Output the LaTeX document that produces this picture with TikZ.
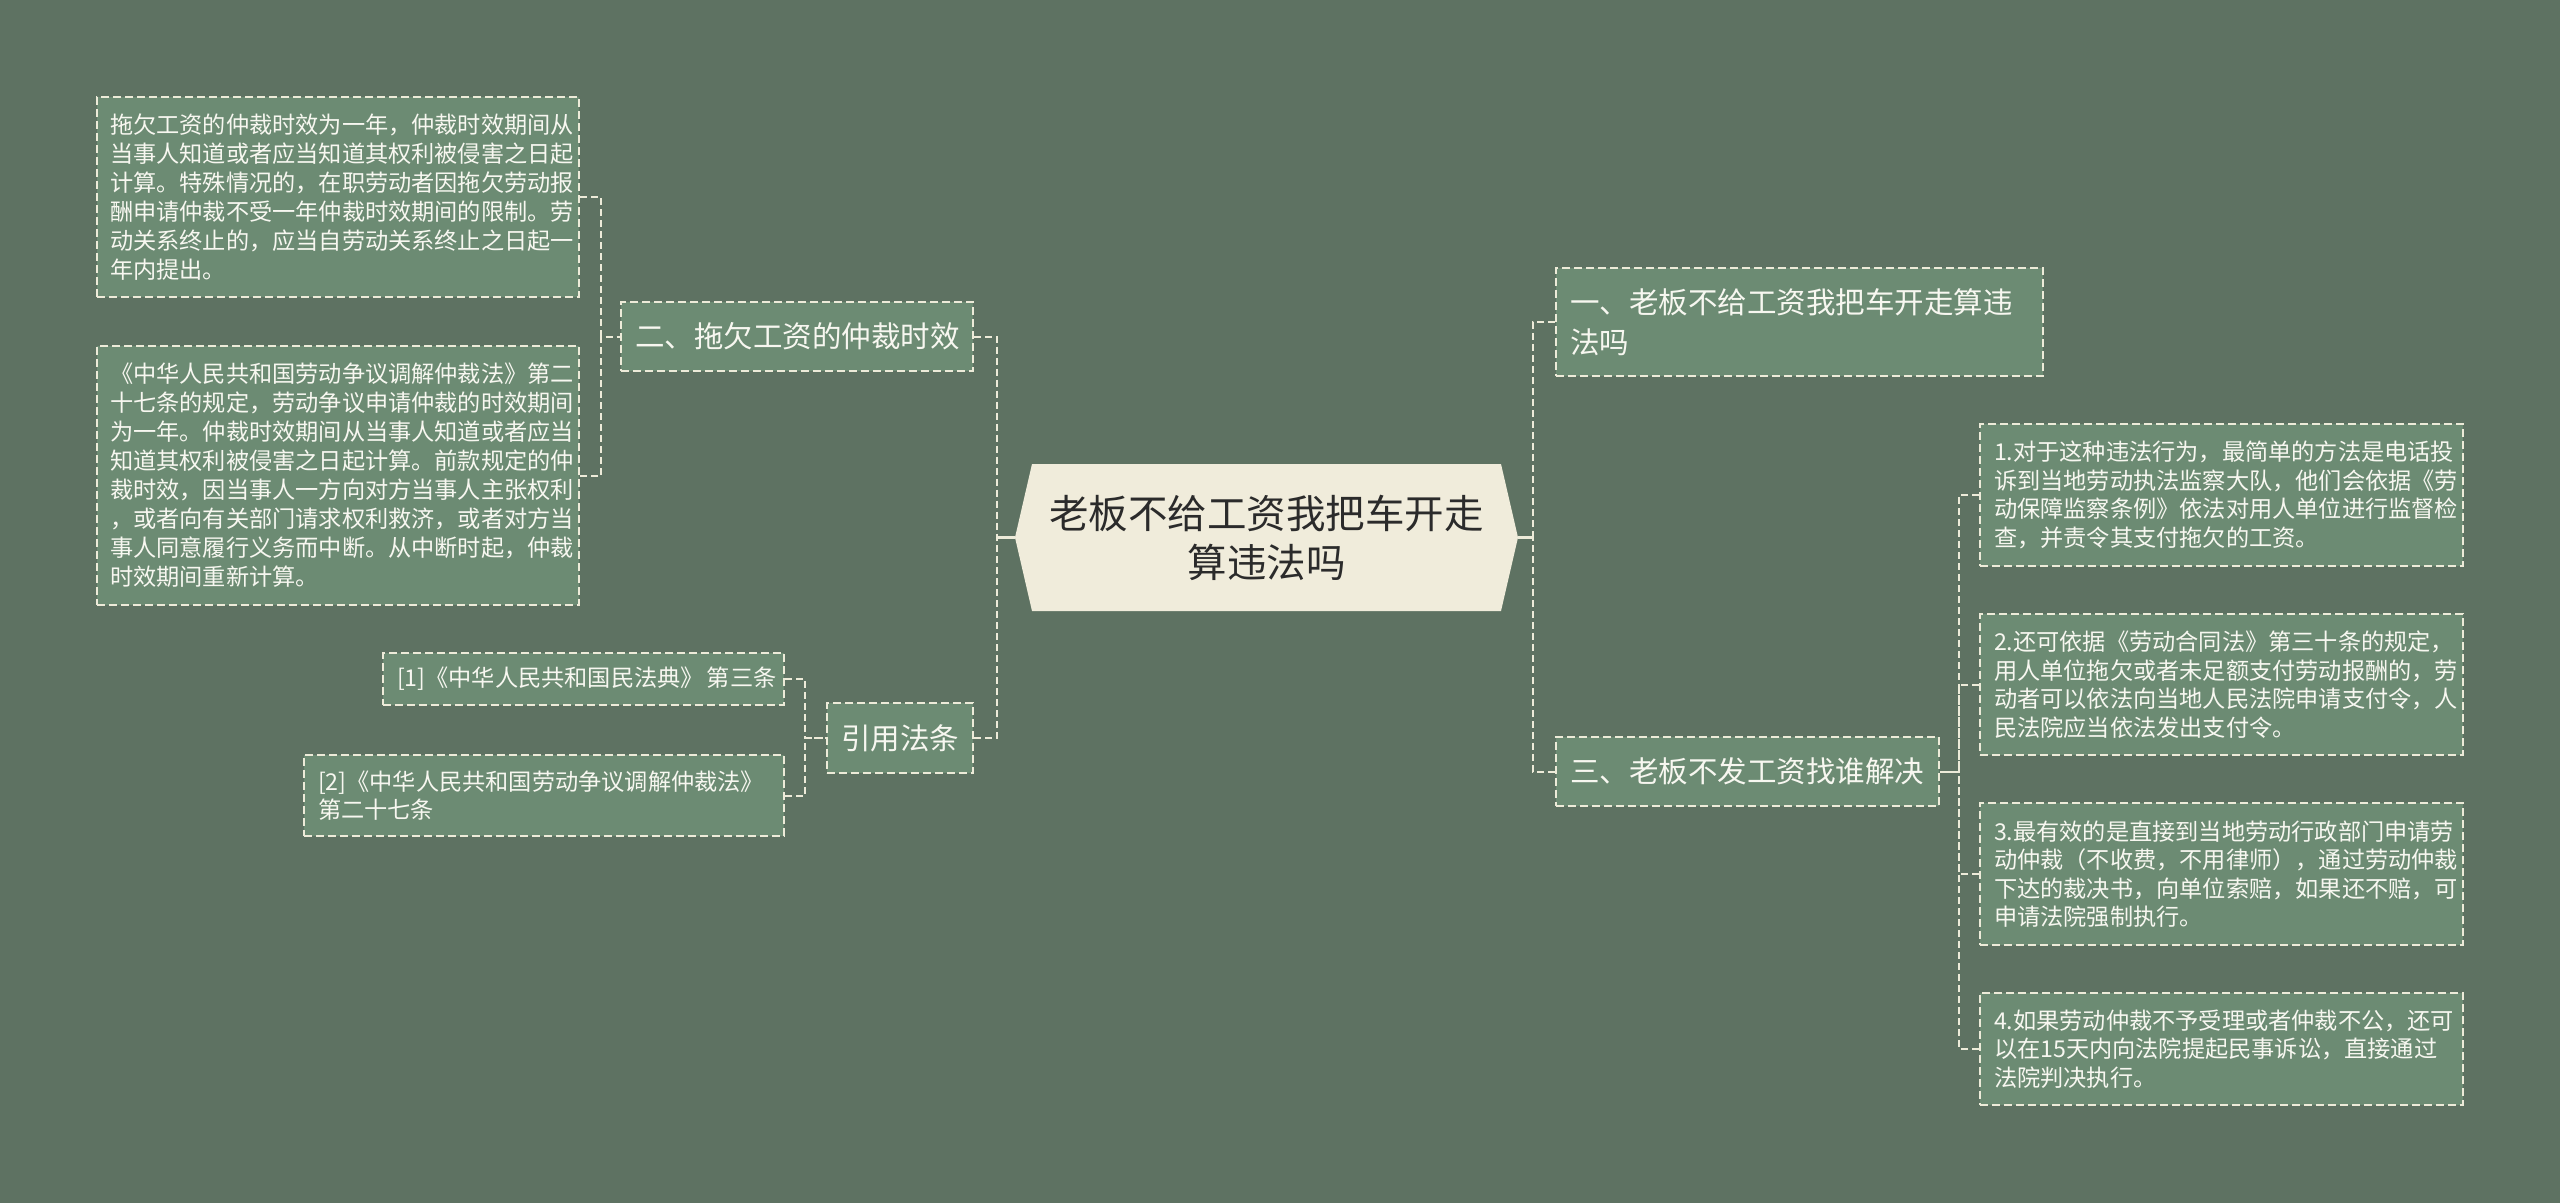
\documentclass[tikz,border=0pt]{standalone}
\usepackage{fontspec}
\setmainfont{Noto Sans CJK SC}
\definecolor{bg}{HTML}{5E7262}
\definecolor{boxfill}{HTML}{6C8B73}
\definecolor{edge}{HTML}{EDEBD9}
\definecolor{txt}{HTML}{F7F7F0}
\definecolor{cfill}{HTML}{F0ECDB}
\definecolor{ctxt}{HTML}{2B2B2B}
\begin{document}
\begin{tikzpicture}[x=1pt,y=-1pt,
  box/.style={draw=edge, line width=2pt, dash pattern=on 8pt off 4pt, fill=boxfill, text=txt, inner xsep=14pt, inner ysep=0pt, align=left, anchor=center},
  small/.style={box, font=\fontsize{23.2}{28.5}\selectfont},
  smallb/.style={box, font=\fontsize{23.2}{29}\selectfont},
  big/.style={box, font=\fontsize{29.5}{40}\selectfont},
  conn/.style={draw=edge, line width=2pt, dash pattern=on 7pt off 4pt},
  stub/.style={draw=edge, line width=3pt},
  centre/.style={inner sep=0pt, minimum width=503pt, minimum height=147pt, text=ctxt, align=center, font=\fontsize{39.5}{49}\selectfont},
]
\useasboundingbox (0,0) rectangle (2560,1203);
\fill[bg] (0,0) rectangle (2560,1203);

% central hexagon
\fill[cfill] (1032,464) -- (1501,464) -- (1518,537.5) -- (1501,611) -- (1032,611) -- (1015,537.5) -- cycle;
\node[centre] (c) at (1266.5,537.5) {老板不给工资我把车开走\\算违法吗};

% right side
\node[big, text width=459pt, minimum height=108pt] (r1) at (1799.5,322) {一、老板不给工资我把车开走算违\\法吗};
\node[big, text width=355pt, minimum height=69pt] (r3) at (1747.5,771.5) {三、老板不发工资找谁解决};

\node[small, text width=455pt, minimum height=142pt] (k1) at (2221.5,495) {1.对于这种违法行为，最简单的方法是电话投\\诉到当地劳动执法监察大队，他们会依据《劳\\动保障监察条例》依法对用人单位进行监督检\\查，并责令其支付拖欠的工资。};
\node[small, text width=455pt, minimum height=141pt] (k2) at (2221.5,684.5) {2.还可依据《劳动合同法》第三十条的规定，\\用人单位拖欠或者未足额支付劳动报酬的，劳\\动者可以依法向当地人民法院申请支付令，人\\民法院应当依法发出支付令。};
\node[small, text width=455pt, minimum height=142pt] (k3) at (2221.5,874) {3.最有效的是直接到当地劳动行政部门申请劳\\动仲裁（不收费，不用律师），通过劳动仲裁\\下达的裁决书，向单位索赔，如果还不赔，可\\申请法院强制执行。};
\node[small, text width=455pt, minimum height=112pt] (k4) at (2221.5,1049) {4.如果劳动仲裁不予受理或者仲裁不公，还可\\以在15天内向法院提起民事诉讼，直接通过\\法院判决执行。};

% left side
\node[big, text width=324pt, minimum height=69pt] (l2) at (797,336.5) {二、拖欠工资的仲裁时效};
\node[big, text width=118pt, minimum height=70pt] (l4) at (900,738) {引用法条};

\node[smallb, text width=456pt, minimum height=200pt, inner xsep=13pt] (a1) at (338,197) {拖欠工资的仲裁时效为一年，仲裁时效期间从\\当事人知道或者应当知道其权利被侵害之日起\\计算。特殊情况的，在职劳动者因拖欠劳动报\\酬申请仲裁不受一年仲裁时效期间的限制。劳\\动关系终止的，应当自劳动关系终止之日起一\\年内提出。};
\node[smallb, text width=456pt, minimum height=259pt, inner xsep=13pt] (a2) at (338,475.5) {《中华人民共和国劳动争议调解仲裁法》第二\\十七条的规定，劳动争议申请仲裁的时效期间\\为一年。仲裁时效期间从当事人知道或者应当\\知道其权利被侵害之日起计算。前款规定的仲\\裁时效，因当事人一方向对方当事人主张权利\\，或者向有关部门请求权利救济，或者对方当\\事人同意履行义务而中断。从中断时起，仲裁\\时效期间重新计算。};

\node[small, text width=373pt, minimum height=52pt] (b1) at (583.5,679) {\mbox{[1]《中华人民共和国民法典》\hspace{3pt}第三条}};
\node[small, text width=452pt, minimum height=81pt] (b2) at (544,795.5) {[2]《中华人民共和国劳动争议调解仲裁法》\\第二十七条};

% connectors
\draw[conn] (r1.west) -- ++(-22,0) |- (c.east);
\draw[conn] (r3.west) -- ++(-22,0) |- (c.east);
\draw[stub] (c.east) -- ++(16,0) coordinate (rs);

\draw[conn] (l2.east) -- ++(23,0) |- (c.west);
\draw[conn] (l4.east) -- ++(23,0) |- (c.west);
\draw[stub] (c.west) -- ++(-19,0) coordinate (ls);

\foreach \k in {k1,k2,k3,k4}{
  \draw[conn] (\k.west) -- ++(-20,0) |- (r3.east);
}
\foreach \k in {a1,a2}{
  \draw[conn] (\k.east) -- ++(21,0) |- (l2.west);
}
\foreach \k in {b1,b2}{
  \draw[conn] (\k.east) -- ++(20,0) |- (l4.west);
}
\end{tikzpicture}
\end{document}
